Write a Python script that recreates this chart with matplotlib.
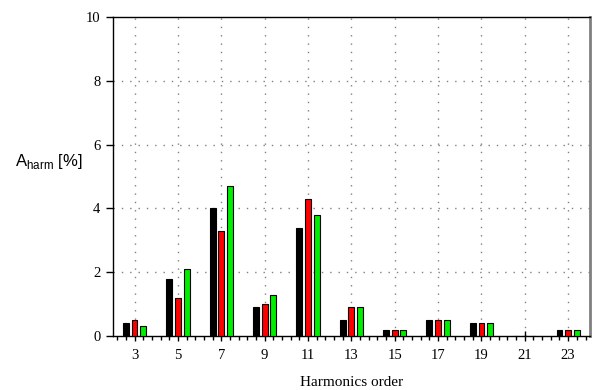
import numpy as np
import matplotlib
matplotlib.use('Agg')
import matplotlib.pyplot as plt
from matplotlib.ticker import FixedLocator

# harmonic orders and amplitudes [%] of the three series
orders = [3, 5, 7, 9, 11, 13, 15, 17, 19, 21, 23]
serie_preta = [0.4, 1.8, 4.0, 0.9, 3.4, 0.5, 0.2, 0.5, 0.4, 0.0, 0.2]
serie_vermelha = [0.5, 1.2, 3.3, 1.0, 4.3, 0.9, 0.2, 0.5, 0.4, 0.0, 0.2]
serie_verde = [0.3, 2.1, 4.7, 1.3, 3.8, 0.9, 0.2, 0.5, 0.4, 0.0, 0.2]

plt.rcParams['font.family'] = 'Liberation Serif'
plt.rcParams['mathtext.fontset'] = 'custom'
plt.rcParams['mathtext.rm'] = 'Liberation Sans'

fig = plt.figure(figsize=(5.94, 3.9), dpi=100)
ax = fig.add_axes([0.190, 0.1385, 0.803, 0.8175])

x = np.array(orders, dtype=float)
w = 0.27
ax.bar(x - 0.4, serie_preta, w, color='black', edgecolor='black', lw=0.8, zorder=3)
ax.bar(x, serie_vermelha, w, color='#ff0000', edgecolor='black', lw=0.8, zorder=3)
ax.bar(x + 0.4, serie_verde, w, color='#00ee00', edgecolor='black', lw=0.8, zorder=3)

ax.set_xlim(2, 24)
ax.set_ylim(0, 10)
ax.set_xticks(orders)
ax.set_yticks([0, 2, 4, 6, 8, 10])
ax.xaxis.set_minor_locator(FixedLocator(np.arange(2.2, 24, 0.4)))
ax.tick_params(axis='x', which='major', direction='inout', length=7, width=1, labelsize=10.5, pad=6)
ax.tick_params(axis='x', which='minor', direction='out', length=3, width=1)
ax.tick_params(axis='y', which='major', direction='out', length=5, width=1, labelsize=10.5, pad=4)

# grade pontilhada
for yy in [2, 4, 6, 8]:
    ax.axhline(yy, color='gray', lw=1, ls=(0, (1, 5)), zorder=1)
for xx in orders:
    ax.axvline(xx, color='gray', lw=1, ls=(0, (1, 5)), zorder=1)

ax.spines['right'].set_color('#808080')
ax.spines['right'].set_linewidth(2)
ax.spines['top'].set_linewidth(1)
ax.spines['left'].set_linewidth(1)
ax.spines['bottom'].set_linewidth(1)

ax.set_xlabel('Harmonics order', fontsize=11, labelpad=10)
fig.text(15 / 594, 1 - 166 / 390, r'A$_{\mathrm{harm}}$ [%]', family='Liberation Sans',
         fontsize=12, ha='left', va='baseline')

fig.savefig('out.png', dpi=100)
